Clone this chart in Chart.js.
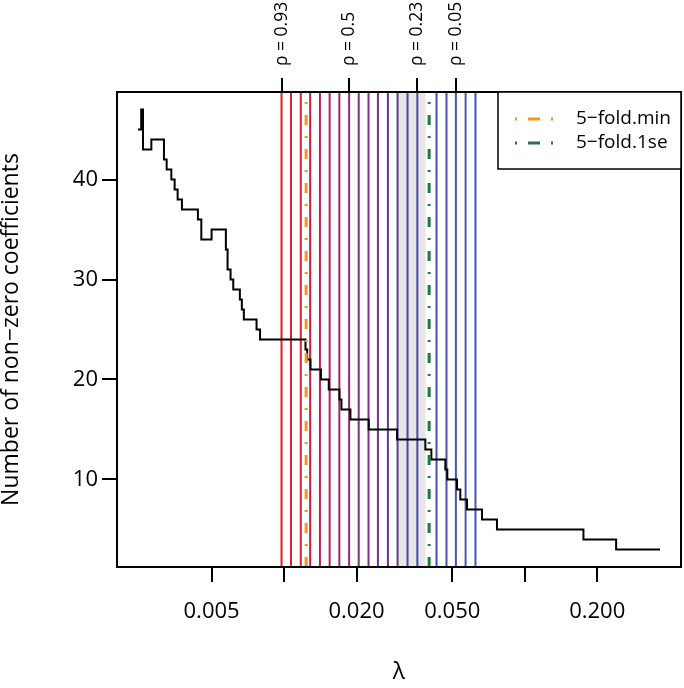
<!DOCTYPE html>
<html lang="en">
<head>
<meta charset="UTF-8">
<title>Non-zero coefficients along lambda</title>
<script src="https://cdn.jsdelivr.net/npm/chart.js"></script>
<style>
  html, body { margin: 0; padding: 0; background: #fff; overflow: hidden; }
  #wrap { width: 684px; height: 688px; position: relative; }
</style>
</head>
<body>
<div id="wrap"><canvas id="chart"></canvas></div>
<script>
// lambda at which each step of the path starts, and the count from there on
const lambdaPath = [0.002473, 0.002550, 0.002594, 0.002810, 0.003170, 0.003253, 0.003402, 0.003511,
  0.003613, 0.003765, 0.004387, 0.004532, 0.005000, 0.005732, 0.005826, 0.005995, 0.006152,
  0.006552, 0.006678, 0.006807, 0.007686, 0.007947, 0.012274, 0.012477, 0.012877, 0.014233,
  0.015334, 0.016987, 0.017315, 0.018870, 0.022473, 0.029480, 0.038637, 0.040916, 0.046774,
  0.047677, 0.052300, 0.053977, 0.057544, 0.066438, 0.076648, 0.17530, 0.23960, 0.36475];
const nonZero = [45, 47, 43, 44, 42, 41, 40, 39,
  38, 37, 36, 34, 35, 33, 31, 30, 29,
  28, 27, 26, 25, 24, 23, 22, 21, 20,
  19, 18, 17, 16, 15, 14, 13, 12, 11,
  10, 9, 8, 7, 6, 5, 4, 3, 3];

// lambda for each rho value (vertical lines)
const rhoLambda = [0.009761, 0.010688, 0.011735, 0.012837, 0.014096, 0.015465, 0.016972,
  0.018638, 0.020424, 0.022432, 0.024543, 0.027006, 0.029617, 0.032584, 0.035793,
  0.042991, 0.047296, 0.051746, 0.056780, 0.062411];

// top axis
const rhoTickLambda = [0.009761, 0.018638, 0.035793, 0.051746];
const rhoTickLabels = ['\u03c1 = 0.93', '\u03c1 = 0.5', '\u03c1 = 0.23', '\u03c1 = 0.05'];

// cross-validation choices and shaded interval
const lambdaMin = 0.012355;
const lambda1se = 0.040058;
const bandLambda = [0.02972, 0.03871];

// bottom / left axes
const xTicks = [0.005, 0.01, 0.02, 0.05, 0.1, 0.2];
const xTickLabels = ['0.005', '', '0.020', '0.050', '', '0.200'];
const yTicks = [10, 20, 30, 40];
const legendLabels = ['5\u2212fold.min', '5\u2212fold.1se'];

const X_MIN = 0.002023, X_MAX = 0.4457;
const Y_MIN = 1.24, Y_MAX = 48.76;

const rhoColors = ['#e41a1c', '#e2202c', '#d81f38', '#c91e44', '#bb2150', '#ad245c', '#a02767',
  '#942a72', '#8a2e7e', '#7f3088', '#733291', '#663697', '#5b3b9d', '#5141a4', '#4a47aa',
  '#4651af', '#4454b1', '#4256b2', '#4258b3', '#4259b4'];
const minColor = '#f7941d';
const seColor = '#1b7a3e';
const FONT = '"Open Sans", "DejaVu Sans", sans-serif';

const datasets = [];
datasets.push({
  data: [{x: lambdaMin, y: Y_MIN}, {x: lambdaMin, y: Y_MAX}],
  borderColor: minColor, borderWidth: 3, borderDash: [10, 11, 2, 11], order: 0
});
datasets.push({
  data: [{x: lambda1se, y: Y_MIN}, {x: lambda1se, y: Y_MAX}],
  borderColor: seColor, borderWidth: 3, borderDash: [10, 11, 2, 11], order: 0
});
datasets.push({
  data: lambdaPath.map((l, i) => ({x: l, y: nonZero[i]})),
  borderColor: '#000', borderWidth: 2, stepped: true, order: 1
});
rhoLambda.forEach((l, i) => {
  datasets.push({
    data: [{x: l, y: Y_MIN}, {x: l, y: Y_MAX}],
    borderColor: rhoColors[i], borderWidth: 2, order: 2
  });
});

// grey band, box and legend drawn around the library's own scales
const framePlugin = {
  id: 'frame',
  beforeDatasetsDraw(chart) {
    const {ctx, chartArea, scales} = chart;
    const a = scales.x.getPixelForValue(bandLambda[0]);
    const b = scales.x.getPixelForValue(bandLambda[1]);
    ctx.save();
    ctx.fillStyle = '#e6e6e6';
    ctx.fillRect(a, chartArea.top, b - a, chartArea.bottom - chartArea.top);
    ctx.restore();
  },
  afterDraw(chart) {
    const {ctx, chartArea} = chart;
    ctx.save();
    ctx.strokeStyle = '#000';
    ctx.lineWidth = 2;
    ctx.strokeRect(chartArea.left, chartArea.top, chartArea.right - chartArea.left, chartArea.bottom - chartArea.top);

    // legend
    const lx = chartArea.right - 183, ly = chartArea.top, lw = 183, lh = 77;
    ctx.fillStyle = '#fff';
    ctx.fillRect(lx, ly, lw, lh);
    ctx.lineWidth = 1.5;
    ctx.strokeRect(lx, ly, lw, lh);
    [minColor, seColor].forEach((c, i) => {
      const y = ly + 27 + i * 24;
      ctx.strokeStyle = c;
      ctx.lineWidth = 3;
      ctx.setLineDash([2, 11, 12, 11]);
      ctx.beginPath();
      ctx.moveTo(lx + 17, y);
      ctx.lineTo(lx + 55, y);
      ctx.stroke();
      ctx.setLineDash([]);
      ctx.fillStyle = '#000';
      ctx.font = '19px ' + FONT;
      ctx.textBaseline = 'middle';
      ctx.textAlign = 'left';
      ctx.fillText(legendLabels[i], lx + 78, y);
    });
    ctx.restore();
  }
};

const tickGrid = len => ({
  display: true, drawOnChartArea: false, drawTicks: true,
  tickLength: len, tickColor: '#000', tickWidth: 2, lineWidth: 2, color: '#000'
});

new Chart(document.getElementById('chart'), {
  type: 'line',
  data: {datasets},
  options: {
    responsive: true,
    maintainAspectRatio: false,
    animation: false,
    layout: {padding: {left: 0, right: 3, top: 0, bottom: 0}},
    elements: {point: {radius: 0}, line: {tension: 0}},
    plugins: {legend: {display: false}, tooltip: {enabled: false}},
    scales: {
      x: {
        type: 'logarithmic', position: 'bottom', min: X_MIN, max: X_MAX,
        border: {display: false},
        grid: tickGrid(15),
        afterBuildTicks: s => { s.ticks = xTicks.map(v => ({value: v})); },
        afterFit: s => { s.height = 121; },
        ticks: {
          autoSkip: false, maxRotation: 0, minRotation: 0, padding: 17,
          color: '#000', font: {family: FONT, size: 22},
          callback: (v, i) => xTickLabels[i]
        },
        title: {display: true, text: '\u03bb', color: '#000',
          font: {family: FONT, size: 23, lineHeight: 1}, padding: {top: 0, bottom: 4}}
      },
      x2: {
        type: 'logarithmic', position: 'top', min: X_MIN, max: X_MAX, display: true,
        border: {display: false},
        grid: tickGrid(14),
        afterBuildTicks: s => { s.ticks = rhoTickLambda.map(v => ({value: v})); },
        afterFit: s => { s.height = 92; },
        ticks: {
          autoSkip: false, maxRotation: 90, minRotation: 90, padding: 12, labelOffset: 21,
          color: '#000', font: {family: FONT, size: 17.5, lineHeight: 1.2},
          callback: (v, i) => rhoTickLabels[i]
        }
      },
      y: {
        type: 'linear', position: 'left', min: Y_MIN, max: Y_MAX,
        border: {display: false},
        grid: tickGrid(15),
        afterBuildTicks: s => { s.ticks = yTicks.map(v => ({value: v})); },
        afterFit: s => { s.width = 117; },
        ticks: {
          padding: 4, color: '#000', font: {family: FONT, size: 22},
          callback: v => String(v)
        },
        title: {display: true, text: 'Number of non\u2212zero coefficients', color: '#000',
          font: {family: FONT, size: 23, lineHeight: 1}, padding: {top: 0, bottom: 0}}
      }
    }
  },
  plugins: [framePlugin]
});
</script>
</body>
</html>
